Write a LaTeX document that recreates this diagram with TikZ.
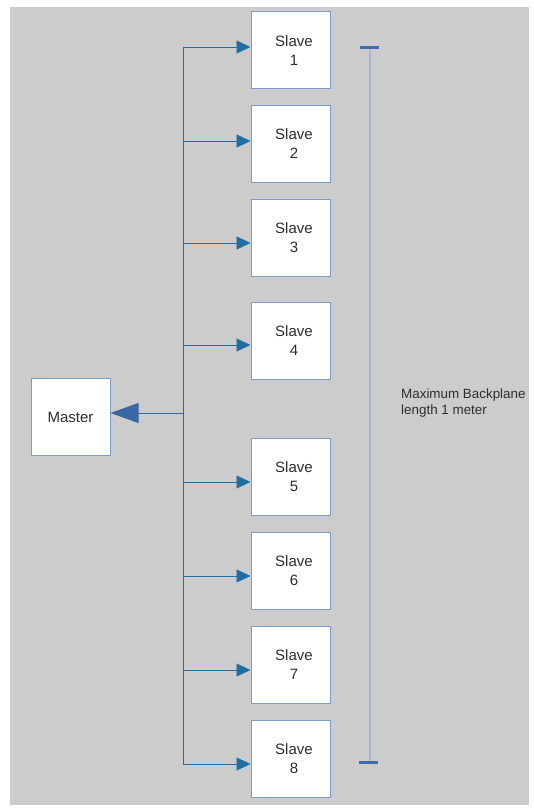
\documentclass[tikz,border=0pt]{standalone}
\usepackage{fontspec}
\setmainfont{Liberation Sans}
\usetikzlibrary{arrows.meta}
\definecolor{boxline}{HTML}{7A9CC8}
\definecolor{wire}{HTML}{1F6FA5}
\definecolor{bigarrow}{HTML}{3A68A6}
\definecolor{panel}{HTML}{CCCCCC}
\definecolor{rangeline}{HTML}{A9B8CF}
\definecolor{rangecap}{HTML}{3E6DAA}
\definecolor{inktext}{HTML}{2E2E2E}

\begin{document}
\begin{tikzpicture}[x=1pt, y=-1pt, every node/.style={font=\fontsize{15}{19}\selectfont, text=inktext}]
      \tikzset{
	  unit/.style={rectangle, draw=boxline, fill=white, line width=1pt, minimum width=79pt, minimum height=77pt, inner sep=0pt, align=center},
	  feed/.style={draw=wire, line width=0.8pt, -{Triangle[length=14pt,width=13pt]}},
	  uplink/.style={draw=bigarrow, line width=1pt, -{Triangle[length=28pt,width=20pt]}},
	  span/.style={draw=rangeline, line width=1.2pt},
	  spancap/.style={draw=rangecap, line width=3pt},
	  note/.style={font=\fontsize{13.4}{16}\selectfont, align=left, anchor=west, inner sep=0pt}
      }

      % page and grey panel
      \useasboundingbox (0,0) rectangle (533,810);
      \fill[panel] (10,7) rectangle (529,805);

      % master and slaves
      \node[unit] (master) at (70.5,417) {Master};
      \node[unit] (s1) at (290.5,50.5) {\hspace*{7pt}Slave\\\hspace*{7pt}1};
      \node[unit] (s2) at (290.5,144) {\hspace*{7pt}Slave\\\hspace*{7pt}2};
      \node[unit] (s3) at (290.5,238) {\hspace*{7pt}Slave\\\hspace*{7pt}3};
      \node[unit] (s4) at (290.5,340.5) {\hspace*{7pt}Slave\\\hspace*{7pt}4};
      \node[unit] (s5) at (290.5,476.5) {\hspace*{7pt}Slave\\\hspace*{7pt}5};
      \node[unit] (s6) at (290.5,570.5) {\hspace*{7pt}Slave\\\hspace*{7pt}6};
      \node[unit] (s7) at (290.5,664.5) {\hspace*{7pt}Slave\\\hspace*{7pt}7};
      \node[unit] (s8) at (290.5,758.5) {\hspace*{7pt}Slave\\\hspace*{7pt}8};

      % backplane bus
      \coordinate (b1) at (183,47);
      \coordinate (b2) at (183,141);
      \coordinate (b3) at (183,243);
      \coordinate (b4) at (183,345);
      \coordinate (b5) at (183,482);
      \coordinate (b6) at (183,576);
      \coordinate (b7) at (183,670);
      \coordinate (b8) at (183,764);
      \coordinate (tap) at (183,413);

      \draw[draw=wire, line width=0.8pt] (b1) -- (b8);
      \draw[feed] (b1) -- (b1 -| s1.west);
      \draw[feed] (b2) -- (b2 -| s2.west);
      \draw[feed] (b3) -- (b3 -| s3.west);
      \draw[feed] (b4) -- (b4 -| s4.west);
      \draw[feed] (b5) -- (b5 -| s5.west);
      \draw[feed] (b6) -- (b6 -| s6.west);
      \draw[feed] (b7) -- (b7 -| s7.west);
      \draw[feed] (b8) -- (b8 -| s8.west);
      \draw[uplink] (tap) -- (tap -| master.east);

      % length marker
      \coordinate (top) at (370,48);
      \coordinate (bot) at (370,762);
      \draw[span] (top) -- (bot);
      \draw[spancap] ([xshift=-10pt]top) -- ([xshift=9pt]top);
      \draw[spancap] ([xshift=-11pt]bot) -- ([xshift=8pt]bot);
      \node[note] (maxlen) at (401,403) {Maximum Backplane\\length 1 meter};
\end{tikzpicture}
\end{document}
